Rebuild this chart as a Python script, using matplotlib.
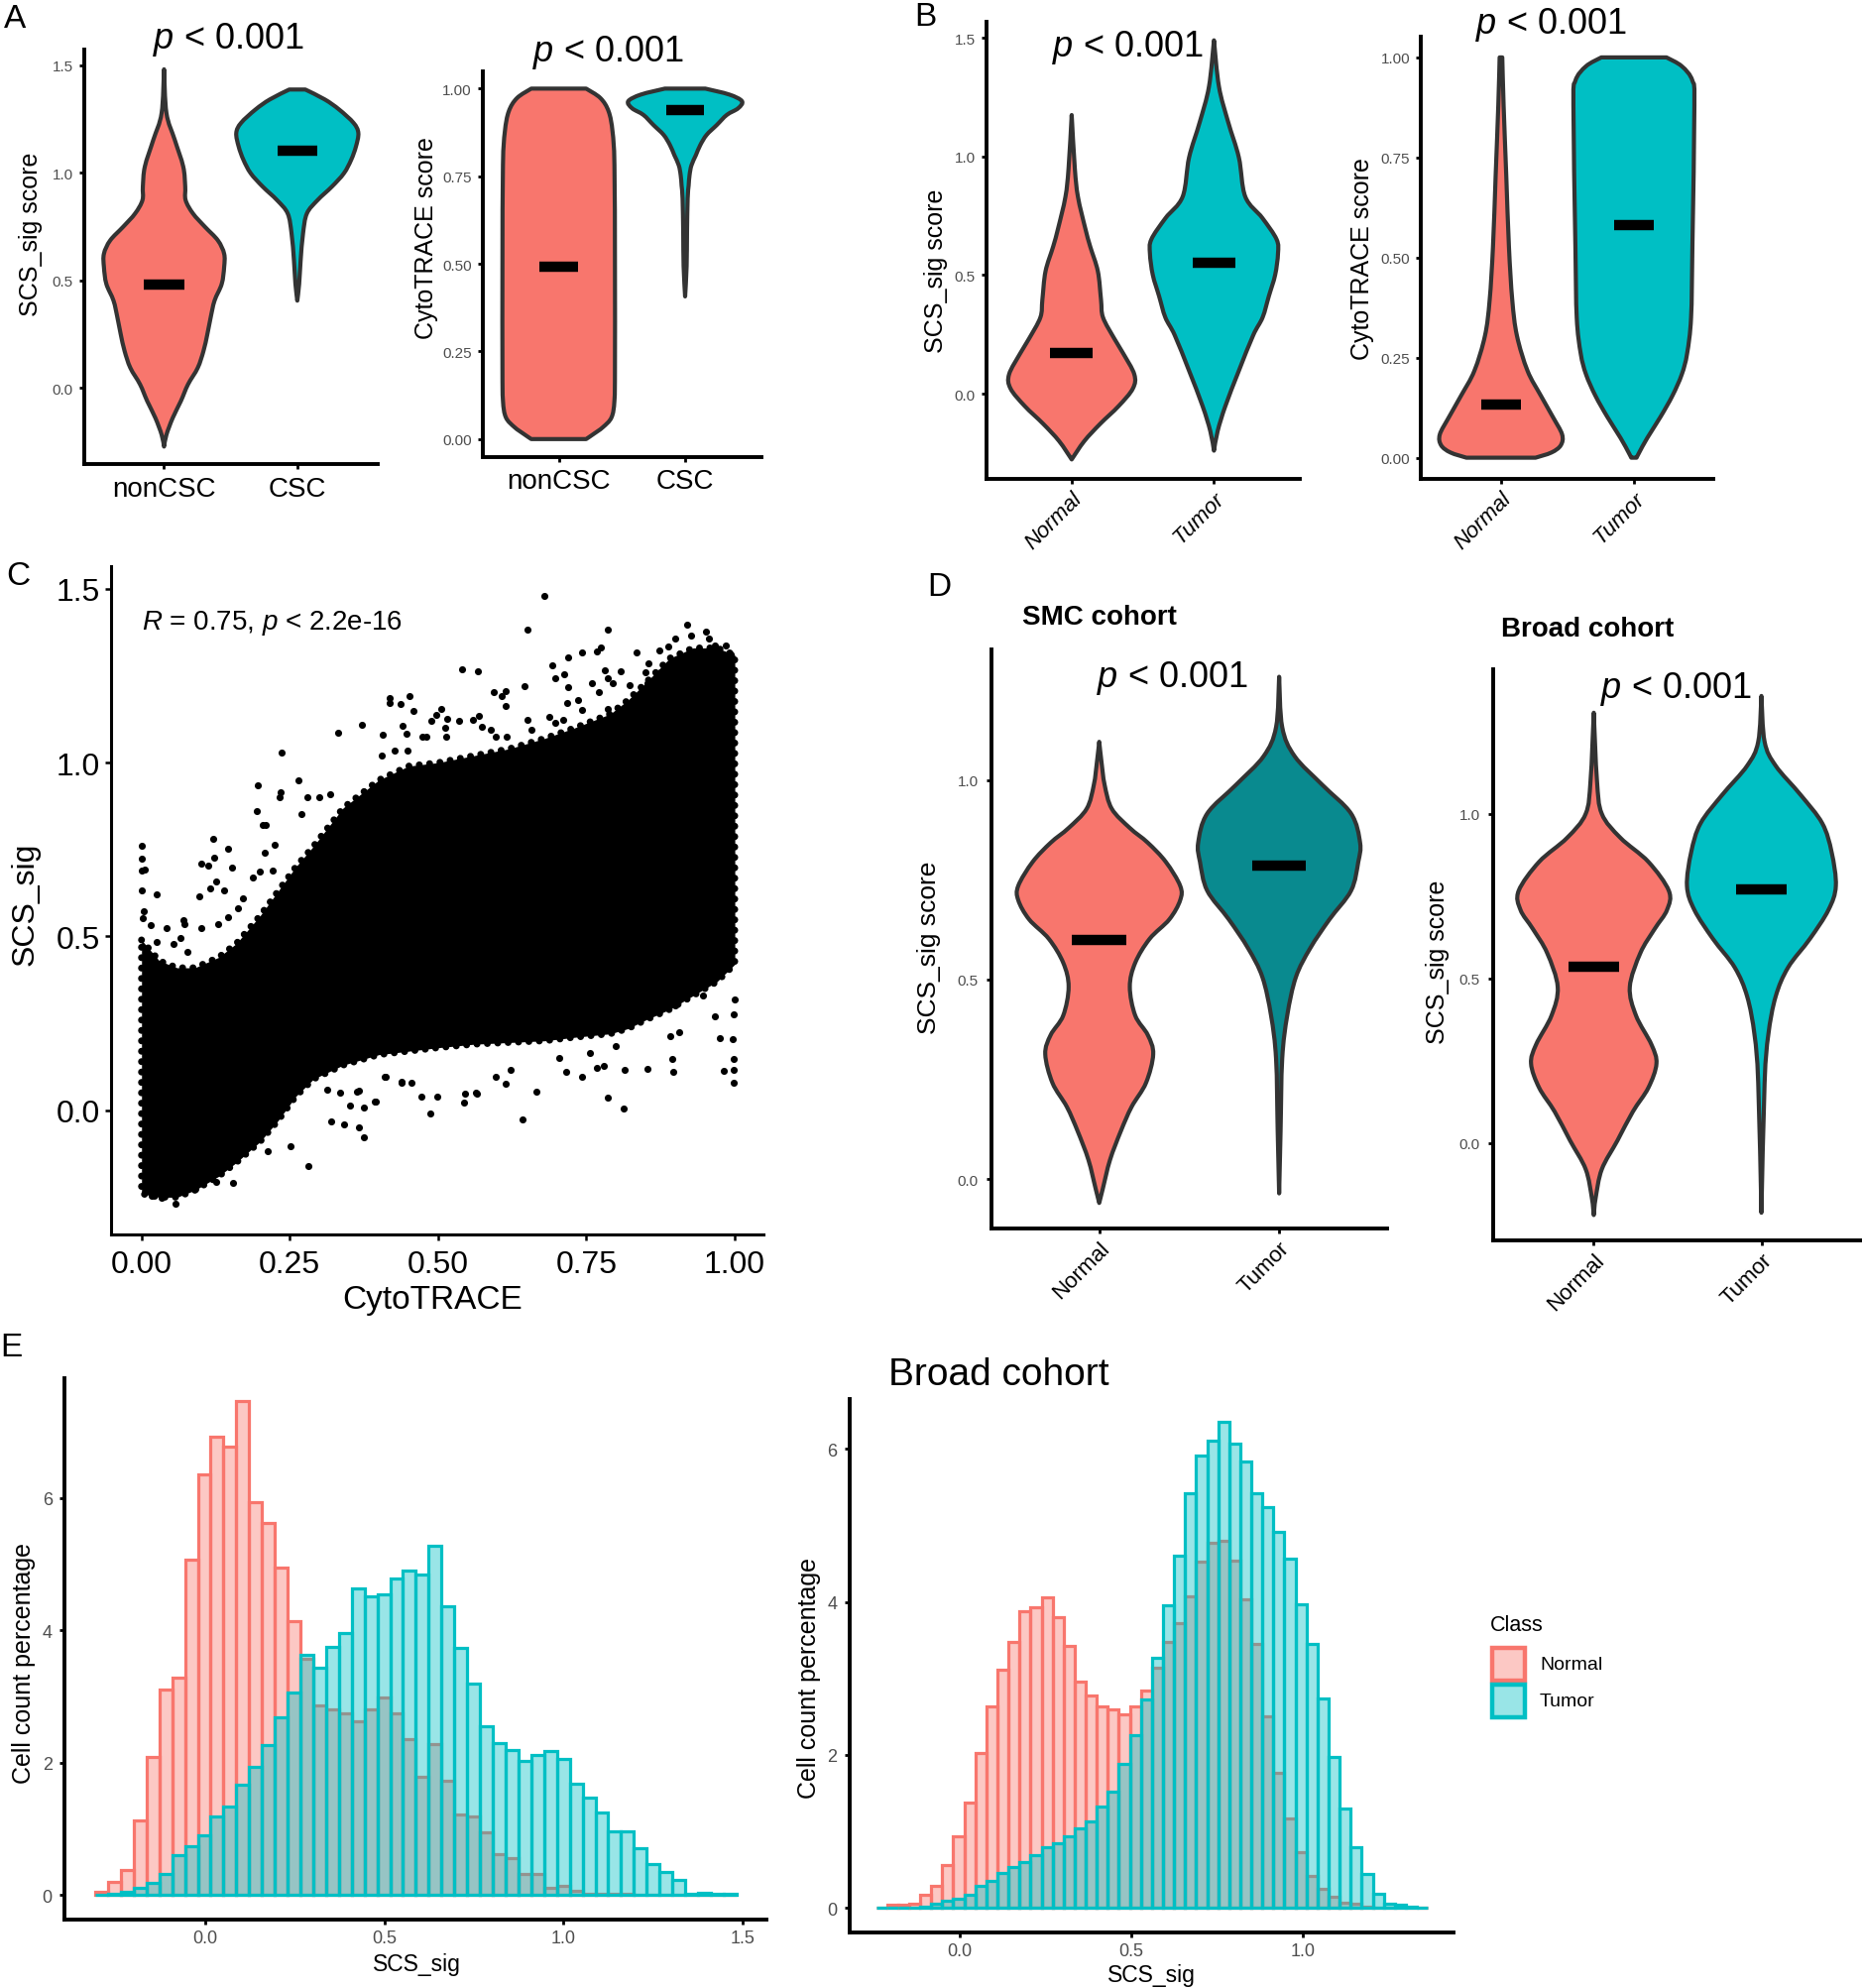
import numpy as np
import matplotlib
matplotlib.use('Agg')
import matplotlib.pyplot as plt
import matplotlib.transforms as mtransforms
from matplotlib.path import Path
from matplotlib.patches import PathPatch, Rectangle

# ---------------------------------------------------------------- data
# panel A  (violin outlines: value, half width in category units)
a1_groups = ['nonCSC', 'CSC']
a1_noncsc_y = [-0.273, -0.218, -0.14, -0.062, 0.016, 0.093, 0.171, 0.249, 0.327, 0.405, 0.483,
               0.561, 0.623, 0.685, 0.748, 0.81, 0.872, 0.935, 1.028, 1.153, 1.277, 1.48]
a1_noncsc_w = [0.0, 0.018, 0.065, 0.126, 0.18, 0.253, 0.296, 0.325, 0.35, 0.379, 0.433,
               0.451, 0.451, 0.404, 0.307, 0.217, 0.162, 0.159, 0.144, 0.08, 0.018, 0.0]
a1_csc_y = [0.405, 0.483, 0.592, 0.717, 0.81, 0.872, 0.935, 0.997, 1.059, 1.121, 1.184, 1.231, 1.293, 1.34, 1.386]
a1_csc_w = [0.0, 0.014, 0.025, 0.043, 0.072, 0.152, 0.26, 0.35, 0.404, 0.44, 0.458, 0.422, 0.314, 0.206, 0.06]
a1_medians = [0.481, 1.101]

a2_noncsc_y = [0.0, 0.014, 0.034, 0.062, 0.11, 0.206, 0.494, 0.781, 0.877, 0.935, 0.973, 1.0]
a2_noncsc_w = [0.217, 0.274, 0.35, 0.418, 0.441, 0.445, 0.445, 0.441, 0.426, 0.395, 0.33, 0.217]
a2_csc_y = [0.407, 0.494, 0.59, 0.686, 0.724, 0.753, 0.781, 0.81, 0.839, 0.868, 0.896, 0.925, 0.944, 0.964, 0.983, 1.0]
a2_csc_w = [0.0, 0.012, 0.015, 0.02, 0.028, 0.035, 0.05, 0.085, 0.12, 0.17, 0.25, 0.33, 0.42, 0.45, 0.35, 0.16]
a2_medians = [0.492, 0.94]

# panel B
b_groups = ['Normal', 'Tumor']
b1_normal_y = [-0.277, -0.2, -0.127, -0.052, 0.022, 0.082, 0.172, 0.232, 0.322, 0.397, 0.516, 0.621, 0.696, 0.83, 0.95, 1.175]
b1_normal_w = [0.0, 0.088, 0.2, 0.33, 0.43, 0.44, 0.36, 0.3, 0.22, 0.206, 0.184, 0.13, 0.096, 0.044, 0.022, 0.0]
b1_tumor_y = [-0.24, -0.157, -0.052, 0.097, 0.247, 0.322, 0.412, 0.501, 0.591, 0.651, 0.741, 0.831, 0.996, 1.145, 1.295, 1.49]
b1_tumor_w = [0.0, 0.026, 0.08, 0.175, 0.276, 0.342, 0.386, 0.43, 0.45, 0.44, 0.34, 0.22, 0.175, 0.1, 0.035, 0.0]
b1_medians = [0.172, 0.552]

b2_normal_y = [0.0, 0.013, 0.031, 0.058, 0.102, 0.155, 0.217, 0.305, 0.394, 0.527, 0.704, 0.88, 1.0]
b2_normal_w = [0.26, 0.38, 0.45, 0.46, 0.39, 0.3, 0.2, 0.12, 0.085, 0.06, 0.04, 0.02, 0.01]
b2_tumor_y = [0.0, 0.013, 0.049, 0.102, 0.155, 0.208, 0.26, 0.35, 0.527, 0.88, 0.942, 0.978, 1.0]
b2_tumor_w = [0.02, 0.04, 0.1, 0.2, 0.29, 0.36, 0.4, 0.43, 0.44, 0.455, 0.44, 0.36, 0.245]
b2_medians = [0.133, 0.58]

# panel C  (solid core of the cloud + loose points around it)
c_env_x = [0.0, 0.03, 0.06, 0.09, 0.13, 0.16, 0.20, 0.23, 0.26, 0.29, 0.34, 0.40, 0.45,
           0.50, 0.56, 0.62, 0.68, 0.73, 0.79, 0.82, 0.85, 0.89, 0.93, 0.97, 1.0]
c_env_upper = [0.49, 0.43, 0.41, 0.41, 0.44, 0.48, 0.56, 0.63, 0.70, 0.76, 0.87, 0.95, 0.99,
               1.00, 1.02, 1.04, 1.07, 1.10, 1.14, 1.18, 1.23, 1.30, 1.33, 1.33, 1.31]
c_env_lower = [-0.24, -0.25, -0.25, -0.23, -0.19, -0.15, -0.09, -0.03, 0.04, 0.09, 0.13, 0.16, 0.17,
               0.18, 0.19, 0.195, 0.20, 0.21, 0.22, 0.235, 0.26, 0.29, 0.33, 0.37, 0.42]
c_out_x = [0.196, 0.232, 0.235, 0.279, 0.300, 0.318, 0.195, 0.269, 0.204, 0.210,
           0.121, 0.146, 0.001, 0.0, 0.001, 0.005, 0.0, 0.026, 0.100, 0.112,
           0.122, 0.153, 0.207, 0.224, 0.126, 0.115, 0.139, 0.098, 0.187, 0.200,
           0.221, 0.004, 0.002, 0.016, 0.042, 0.070, 0.073, 0.026, 0.054, 0.065,
           0.078, 0.101, 0.171, 0.162, 0.146, 0.129, 0.438, 0.455, 0.471, 0.499,
           0.544, 0.597, 0.393, 0.374, 0.363, 0.335, 0.313, 0.410, 0.563, 0.281,
           0.375, 0.366, 0.342, 0.319, 0.352, 0.395, 0.486, 0.545, 0.566, 0.643,
           0.665, 0.614, 0.786, 0.812, 0.742, 0.715, 0.815, 0.853, 0.896, 0.894,
           0.981, 0.998, 0.999, 0.998, 0.996, 0.974, 0.967, 0.998, 1.0, 0.906,
           0.891, 0.779, 0.767, 0.800, 0.756, 0.704, 0.622, 0.367, 0.439, 0.412,
           0.679, 0.650, 0.786, 0.775, 0.768, 0.743, 0.835, 0.540, 0.567, 0.645,
           0.692, 0.719, 0.697, 0.713, 0.719, 0.594, 0.613, 0.613, 0.607, 0.452,
           0.418, 0.418, 0.437, 0.458, 0.407, 0.440, 0.446, 0.505, 0.496, 0.488,
           0.516, 0.535, 0.512, 0.480, 0.514, 0.558, 0.569, 0.573, 0.588, 0.597,
           0.616, 0.687, 0.651, 0.658, 0.697, 0.711, 0.717, 0.735, 0.742, 0.759,
           0.781, 0.786, 0.807, 0.794, 0.771, 0.786, 0.822, 0.854, 0.873, 0.888,
           0.900, 0.920, 0.926, 0.952, 0.956, 0.967, 0.984, 0.993, 0.849, 0.853,
           0.875, 0.405, 0.427, 0.449, 0.474, 0.371, 0.332, 0.236, 0.264, 0.251,
           0.213, 0.155, 0.017, 0.034, 0.057, 0.090, 0.126, 0.946, 0.899]
c_out_y = [0.934, 0.900, 0.915, 0.900, 0.900, 0.910, 0.860, 0.853, 0.821, 0.821,
           0.782, 0.753, 0.761, 0.723, 0.689, 0.691, 0.632, 0.622, 0.710, 0.704,
           0.726, 0.698, 0.742, 0.763, 0.658, 0.639, 0.632, 0.615, 0.669, 0.687,
           0.689, 0.574, 0.552, 0.533, 0.523, 0.546, 0.535, 0.485, 0.479, 0.495,
           0.456, 0.525, 0.610, 0.582, 0.555, 0.536, 0.080, 0.078, 0.040, 0.040,
           0.021, 0.095, 0.026, 0.007, 0.054, 0.051, 0.059, 0.097, 0.050, -0.160,
           -0.077, -0.050, -0.040, -0.032, 0.013, 0.026, -0.009, 0.048, 0.047, -0.026,
           0.053, 0.077, 0.037, 0.005, 0.097, 0.110, 0.116, 0.119, 0.110, 0.147,
           0.114, 0.080, 0.116, 0.148, 0.204, 0.207, 0.270, 0.275, 0.318, 0.225,
           0.213, 0.129, 0.121, 0.185, 0.164, 0.151, 0.115, 0.057, 0.081, 0.095,
           1.479, 1.383, 1.383, 1.331, 1.319, 1.316, 1.316, 1.268, 1.262, 1.219,
           1.279, 1.303, 1.243, 1.255, 1.217, 1.202, 1.205, 1.164, 1.191, 1.191,
           1.186, 1.171, 1.169, 1.148, 1.081, 1.107, 1.084, 1.155, 1.138, 1.119,
           1.126, 1.119, 1.100, 1.076, 1.076, 1.122, 1.135, 1.103, 1.095, 1.074,
           1.074, 1.133, 1.122, 1.095, 1.114, 1.124, 1.171, 1.181, 1.152, 1.228,
           1.265, 1.243, 1.262, 1.230, 1.202, 1.154, 1.224, 1.287, 1.323, 1.335,
           1.357, 1.398, 1.366, 1.378, 1.357, 1.338, 1.338, 1.312, 1.259, 1.228,
           1.259, 1.019, 1.034, 1.034, 1.076, 1.109, 1.085, 1.028, 0.949, -0.104,
           -0.118, -0.210, -0.246, -0.253, -0.268, -0.225, -0.206, 0.330, 0.302]

# panel D
d1_normal_y = [-0.06, -0.024, 0.048, 0.12, 0.181, 0.241, 0.313, 0.361, 0.41, 0.482, 0.542,
               0.602, 0.651, 0.699, 0.735, 0.795, 0.843, 0.88, 0.928, 0.988, 1.048, 1.096]
d1_normal_w = [0.0, 0.02, 0.06, 0.12, 0.18, 0.26, 0.3, 0.27, 0.2, 0.17, 0.2,
               0.28, 0.39, 0.45, 0.45, 0.37, 0.27, 0.17, 0.07, 0.03, 0.012, 0.0]
d1_tumor_y = [-0.036, 0.12, 0.301, 0.41, 0.506, 0.578, 0.651, 0.723, 0.795, 0.843, 0.916, 0.988, 1.06, 1.133, 1.259]
d1_tumor_w = [0.0, 0.008, 0.017, 0.045, 0.093, 0.172, 0.28, 0.4, 0.44, 0.45, 0.4, 0.24, 0.086, 0.017, 0.0]
d1_medians = [0.599, 0.786]

d2_normal_y = [-0.219, -0.168, -0.08, 0.007, 0.095, 0.168, 0.241, 0.299, 0.387, 0.474,
               0.577, 0.65, 0.708, 0.766, 0.854, 0.927, 1.0, 1.102, 1.307]
d2_normal_w = [0.0, 0.011, 0.048, 0.141, 0.233, 0.326, 0.374, 0.344, 0.252, 0.215,
               0.278, 0.363, 0.437, 0.448, 0.326, 0.159, 0.048, 0.019, 0.0]
d2_tumor_y = [-0.212, 0.182, 0.328, 0.445, 0.533, 0.62, 0.708, 0.781, 0.883, 0.971, 1.058, 1.146, 1.219, 1.358]
d2_tumor_w = [0.0, 0.019, 0.041, 0.085, 0.159, 0.289, 0.4, 0.444, 0.419, 0.363, 0.233, 0.085, 0.019, 0.0]
d2_medians = [0.536, 0.771]

# panel E  (50 bins, cell count percentage per bin)
e1_bin_start, e1_bin_width = -0.306, 0.03577
e1_normal = [0.05, 0.2, 0.38, 1.13, 2.09, 3.1, 3.28, 5.07, 6.36, 6.93,
             6.78, 7.46, 5.94, 5.62, 4.95, 4.14, 3.57, 2.86, 2.81, 2.75,
             2.62, 2.81, 2.98, 2.74, 2.36, 1.78, 2.28, 1.72, 1.22, 1.19,
             0.95, 0.62, 0.56, 0.32, 0.32, 0.11, 0.14, 0.06, 0.01, 0.01,
             0.02, 0.01, 0.0, 0.0, 0.0, 0.0, 0.0, 0.0, 0.0, 0.0]
e1_tumor = [0.0, 0.01, 0.04, 0.1, 0.18, 0.32, 0.6, 0.74, 0.9, 1.18,
            1.34, 1.67, 1.93, 2.26, 2.68, 3.06, 3.63, 3.44, 3.75, 3.96,
            4.63, 4.52, 4.55, 4.79, 4.9, 4.84, 5.28, 4.37, 3.73, 3.2,
            2.55, 2.29, 2.19, 2.03, 2.11, 2.18, 2.05, 1.68, 1.47, 1.24,
            0.96, 0.96, 0.71, 0.47, 0.34, 0.22, 0.02, 0.03, 0.01, 0.02]
e2_bin_start, e2_bin_width = -0.2424, 0.03212
e2_normal = [0.01, 0.04, 0.04, 0.06, 0.17, 0.29, 0.56, 0.94, 1.38, 2.02,
             2.63, 3.11, 3.48, 3.88, 3.93, 4.06, 3.8, 3.42, 2.96, 2.78,
             2.63, 2.6, 2.53, 2.64, 2.84, 3.14, 3.48, 3.72, 4.07, 4.53,
             4.77, 4.8, 4.54, 4.03, 3.45, 2.51, 1.77, 1.17, 0.73, 0.42,
             0.25, 0.14, 0.07, 0.05, 0.02, 0.01, 0.0, 0.0, 0.0, 0.0]
e2_tumor = [0.0, 0.0, 0.005, 0.01, 0.02, 0.05, 0.09, 0.12, 0.17, 0.29,
            0.36, 0.46, 0.53, 0.6, 0.69, 0.8, 0.85, 0.94, 1.04, 1.13,
            1.32, 1.52, 1.88, 2.26, 2.73, 3.27, 3.95, 4.6, 5.42, 5.91,
            6.11, 6.35, 6.07, 5.84, 5.42, 5.24, 4.92, 4.56, 3.97, 3.45,
            2.74, 1.97, 1.3, 0.8, 0.44, 0.18, 0.06, 0.04, 0.02, 0.01]
e_classes = ['Normal', 'Tumor']

# ---------------------------------------------------------------- style
W, H = 1878, 2006
RED = '#F8766D'
TEAL = '#00BFC4'
DARKTEAL = '#098A8F'
OUTLINE = '#333333'
GREY = '#4D4D4D'

plt.rcParams['font.family'] = ['Liberation Sans', 'DejaVu Sans']
plt.rcParams['mathtext.fontset'] = 'custom'
plt.rcParams['mathtext.it'] = 'Liberation Sans:italic'
plt.rcParams['mathtext.rm'] = 'Liberation Sans'

fig = plt.figure(figsize=(W / 100, H / 100), dpi=100)
PX = mtransforms.Affine2D().scale(1.0 / W, -1.0 / H).translate(0, 1) + fig.transFigure


def px_rect(x0, y0, x1, y1):
    return [x0 / W, 1 - y1 / H, (x1 - x0) / W, (y1 - y0) / H]


def classic(ax, lw=2.8, tlen=3.5, tw=2.0):
    ax.spines[['top', 'right']].set_visible(False)
    for s in ('left', 'bottom'):
        ax.spines[s].set_linewidth(lw)
        ax.spines[s].set_capstyle('projecting')
    ax.tick_params(direction='out', length=tlen, width=tw)
    ax.set_facecolor('none')


def bezier_through(pts):
    verts = []
    n = len(pts)
    for i in range(n - 1):
        p0 = pts[max(i - 1, 0)]
        p1 = pts[i]
        p2 = pts[i + 1]
        p3 = pts[min(i + 2, n - 1)]
        verts += [p1 + (p2 - p0) / 6.0, p2 - (p3 - p1) / 6.0, p2]
    return verts, [Path.CURVE4] * len(verts)


def draw_violin(ax, pos, ys, ws, color):
    ys = np.asarray(ys, float)
    ws = np.asarray(ws, float)
    right = np.column_stack([pos + ws, ys])
    left = np.column_stack([pos - ws, ys])[::-1]
    verts = [right[0]]
    codes = [Path.MOVETO]
    v, c = bezier_through(right)
    verts += v; codes += c
    verts.append(left[0]); codes.append(Path.LINETO)
    v, c = bezier_through(left)
    verts += v; codes += c
    verts.append(right[0]); codes.append(Path.CLOSEPOLY)
    ax.add_patch(PathPatch(Path(verts, codes), facecolor=color, edgecolor=OUTLINE,
                           lw=3.0, joinstyle='round', zorder=2))


def draw_median(ax, pos, m):
    ax.plot([pos - 0.15, pos + 0.15], [m, m], color='black', lw=7.5,
            solid_capstyle='butt', zorder=3)


def violin_panel(rect, ylim, yticks, yticklabels, groups, shapes, colors, medians,
                 xfont=20, xstyle='normal', rotate=False, ypad=4.5):
    ax = fig.add_axes(px_rect(*rect))
    classic(ax)
    for i, ((ys, ws), col) in enumerate(zip(shapes, colors)):
        draw_violin(ax, i + 1, ys, ws, col)
        draw_median(ax, i + 1, medians[i])
    ax.set_xlim(0.4, 2.6)
    ax.set_ylim(*ylim)
    ax.set_yticks(yticks)
    ax.set_yticklabels(yticklabels, fontsize=11, color=GREY)
    ax.set_xticks([1, 2])
    if rotate:
        ax.set_xticklabels(groups, fontsize=xfont, rotation=45, ha='right', va='top',
                           rotation_mode='anchor', style=xstyle)
        ax.tick_params(axis='x', pad=3)
    else:
        ax.set_xticklabels(groups, fontsize=xfont)
        ax.tick_params(axis='x', pad=5)
    ax.tick_params(axis='y', pad=ypad)
    return ax


def ptitle(x, y, size=26):
    fig.text(x, y, r'$p$ < 0.001', transform=PX, ha='center', va='baseline', fontsize=size)


def flabel(x, y, s, size=18, rot=90, **kw):
    fig.text(x, y, s, transform=PX, ha='center', va='center', rotation=rot, fontsize=size, **kw)


# ---------------------------------------------------------------- panel A
violin_panel((84.8, 50.7, 380.5, 469.2), (-0.355, 1.573), [0, 0.5, 1.0, 1.5],
             ['0.0', '0.5', '1.0', '1.5'], a1_groups,
             [(a1_noncsc_y, a1_noncsc_w), (a1_csc_y, a1_csc_w)], [RED, TEAL], a1_medians)
ptitle(230, 49)
flabel(31.5, 236, 'SCS_sig score')

violin_panel((487, 72.7, 767.5, 461.5), (-0.05, 1.05), [0, 0.25, 0.5, 0.75, 1.0],
             ['0.00', '0.25', '0.50', '0.75', '1.00'], a1_groups,
             [(a2_noncsc_y, a2_noncsc_w), (a2_csc_y, a2_csc_w)], [RED, TEAL], a2_medians)
ptitle(613, 62.5)
flabel(430.5, 240, 'CytoTRACE score')

# ---------------------------------------------------------------- panel B
violin_panel((994.8, 23, 1310.5, 484), (-0.359, 1.568), [0, 0.5, 1.0, 1.5],
             ['0.0', '0.5', '1.0', '1.5'], b_groups,
             [(b1_normal_y, b1_normal_w), (b1_tumor_y, b1_tumor_w)], [RED, TEAL], b1_medians,
             xfont=16, xstyle='italic', rotate=True)
ptitle(1137, 57)
flabel(944, 273, 'SCS_sig score')

violin_panel((1433.4, 37.5, 1728.4, 484), (-0.053, 1.053), [0, 0.25, 0.5, 0.75, 1.0],
             ['0.00', '0.25', '0.50', '0.75', '1.00'], b_groups,
             [(b2_normal_y, b2_normal_w), (b2_tumor_y, b2_tumor_w)], [RED, TEAL], b2_medians,
             xfont=16, xstyle='italic', rotate=True)
ptitle(1564, 34)
flabel(1374, 261, 'CytoTRACE score')

# ---------------------------------------------------------------- panel C
axc = fig.add_axes(px_rect(112.2, 572.4, 770.4, 1245.6))
classic(axc, lw=2.2, tlen=4, tw=1.8)
axc.fill_between(c_env_x, c_env_lower, c_env_upper, color='black', lw=0, zorder=2)
rim_x = list(c_env_x) + list(c_env_x[::-1]) + [c_env_x[0]]
rim_y = list(c_env_upper) + list(c_env_lower[::-1]) + [c_env_upper[0]]
axc.plot(rim_x, rim_y, color='black', lw=5, ls=(0, (0.01, 1.5)),
         solid_capstyle='round', dash_capstyle='round', zorder=2)
axc.scatter(c_out_x, c_out_y, s=26, color='black', lw=0, zorder=3)
axc.set_xlim(-0.051, 1.049)
axc.set_ylim(-0.356, 1.564)
axc.set_xticks([0, 0.25, 0.5, 0.75, 1.0])
axc.set_xticklabels(['0.00', '0.25', '0.50', '0.75', '1.00'], fontsize=23)
axc.set_yticks([0, 0.5, 1.0, 1.5])
axc.set_yticklabels(['0.0', '0.5', '1.0', '1.5'], fontsize=23)
axc.tick_params(axis='x', pad=7)
axc.tick_params(axis='y', pad=4)
fig.text(143, 634.6, r'$R$ = 0.75, $p$ < 2.2e-16', transform=PX, ha='left', va='baseline', fontsize=20)
flabel(25.5, 912, 'SCS_sig', size=23)
flabel(436, 1312, 'CytoTRACE', size=24, rot=0)

# ---------------------------------------------------------------- panel D
violin_panel((999.8, 656, 1399, 1240), (-0.124, 1.3275), [0, 0.5, 1.0],
             ['0.0', '0.5', '1.0'], b_groups,
             [(d1_normal_y, d1_normal_w), (d1_tumor_y, d1_tumor_w)], [RED, DARKTEAL], d1_medians,
             xfont=16, rotate=True, ypad=6)
ptitle(1182, 693)
flabel(937, 956, 'SCS_sig score', size=19)
fig.text(1031, 630, 'SMC cohort', transform=PX, ha='left', va='baseline', fontsize=20, weight='bold')

violin_panel((1506, 676, 1878, 1252), (-0.296, 1.439), [0, 0.5, 1.0],
             ['0.0', '0.5', '1.0'], b_groups,
             [(d2_normal_y, d2_normal_w), (d2_tumor_y, d2_tumor_w)], [RED, TEAL], d2_medians,
             xfont=16, rotate=True, ypad=6)
ptitle(1690, 704.5)
flabel(1449.6, 970.6, 'SCS_sig score', size=18)
fig.text(1514.5, 642.4, 'Broad cohort', transform=PX, ha='left', va='baseline', fontsize=20, weight='bold')


# ---------------------------------------------------------------- panel E
def hist_panel(rect, xlim, ylim, start, width, normal, tumor):
    ax = fig.add_axes(px_rect(*rect))
    classic(ax)
    edges = start + width * np.arange(len(normal))
    ax.bar(edges, normal, width=width, align='edge', facecolor=matplotlib.colors.to_rgba(RED, 0.4),
           edgecolor=RED, lw=2.3, zorder=2)
    ax.bar(edges, tumor, width=width, align='edge', facecolor=matplotlib.colors.to_rgba(TEAL, 0.4),
           edgecolor=TEAL, lw=2.3, zorder=3)
    ax.set_xlim(*xlim)
    ax.set_ylim(*ylim)
    ax.set_yticks([0, 2, 4, 6])
    ax.set_yticklabels(['0', '2', '4', '6'], fontsize=13, color=GREY)
    ax.tick_params(axis='x', labelsize=13, labelcolor=GREY, pad=3.5)
    ax.tick_params(axis='y', pad=5.5)
    return ax


axe1 = hist_panel((65.3, 1391, 773, 1937), (-0.391, 1.566), (-0.373, 7.81),
                  e1_bin_start, e1_bin_width, e1_normal, e1_tumor)
axe1.set_xticks([0, 0.5, 1.0, 1.5])
axe1.set_xticklabels(['0.0', '0.5', '1.0', '1.5'])
flabel(24, 1678, 'Cell count percentage', size=18)
flabel(420, 1982, 'SCS_sig', size=16.5, rot=0)

axe2 = hist_panel((857, 1411.5, 1466, 1950), (-0.319, 1.438), (-0.32, 6.657),
                  e2_bin_start, e2_bin_width, e2_normal, e2_tumor)
axe2.set_xticks([0, 0.5, 1.0])
axe2.set_xticklabels(['0.0', '0.5', '1.0'])
flabel(816.4, 1692.5, 'Cell count percentage', size=18)
flabel(1161.6, 1992.5, 'SCS_sig', size=16.5, rot=0)
fig.text(895.5, 1397, 'Broad cohort', transform=PX, ha='left', va='baseline', fontsize=28)

# legend
fig.text(1503, 1645, 'Class', transform=PX, ha='left', va='baseline', fontsize=15.5)
for k, (lab, col) in enumerate(zip(e_classes, [RED, TEAL])):
    y0 = 1663 + k * 37
    fig.add_artist(Rectangle((1505, y0), 33, 33, transform=PX,
                             facecolor=matplotlib.colors.to_rgba(col, 0.4), edgecolor=col, lw=3.2))
    fig.text(1553, y0 + 17, lab, transform=PX, ha='left', va='center', fontsize=14)

# ---------------------------------------------------------------- panel letters
for letter, (x, y) in zip('ABCDE', [(15, 19), (933, 17), (18, 582), (947, 593), (11, 1360)]):
    fig.text(x, y, letter, transform=PX, ha='center', va='center', fontsize=24)

fig.savefig('out.png', dpi=100)
